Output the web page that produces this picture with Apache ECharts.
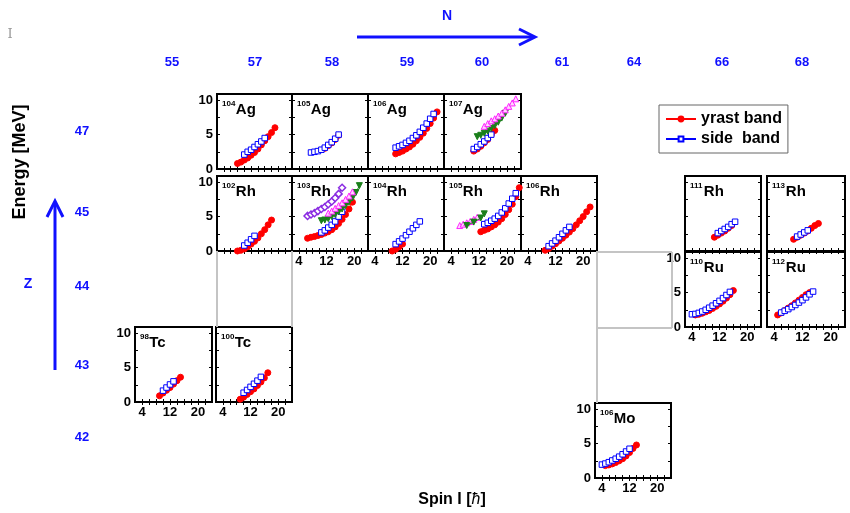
<!DOCTYPE html>
<html>
<head>
<meta charset="utf-8">
<script src="https://cdn.jsdelivr.net/npm/echarts@6/dist/echarts.min.js"></script>
<style>
html, body { margin: 0; padding: 0; background: #fff; }
#main { width: 850px; height: 513px; }
</style>
</head>
<body>
<div id="main"></div>
<script>
// axis labels
const nLabels = ['55', '57', '58', '59', '60', '61', '64', '66', '68'];
const zLabels = ['47', '45', '44', '43', '42'];
const xTickVals = [4, 6, 8, 10, 12, 14, 16, 18, 20, 22];
const xLabelVals = [4, 12, 20];
const yTickVals = [2.5, 5, 7.5, 10];
const yLabelVals = [0, 5, 10];

// [spin, energy] per band
const ag104Yrast = [[8,0.8],[9,1.0],[10,1.3],[11,1.6],[12,2.0],[13,2.4],[14,2.9],[15,3.5],[16,4.1],[17,4.7],[18,5.3],[19,6.0]];
const ag104Side = [[10,2.1],[11,2.5],[12,2.8],[13,3.2],[14,3.6],[15,4.0],[16,4.5]];
const ag105Yrast = [[11.5,3.0],[12.5,3.4],[13.5,3.8],[14.5,4.3],[15.5,4.9]];
const ag105Side = [[7.5,2.4],[8.5,2.5],[9.5,2.6],[10.5,2.8],[11.5,3.1],[12.5,3.5],[13.5,3.9],[14.5,4.4],[15.5,5.0]];
const ag106Yrast = [[10,2.2],[11,2.4],[12,2.6],[13,2.9],[14,3.2],[15,3.6],[16,4.1],[17,4.6],[18,5.2],[19,5.9],[20,6.6],[21,7.4],[22,8.3]];
const ag106Side = [[10,3.1],[11,3.3],[12,3.5],[13,3.8],[14,4.1],[15,4.5],[16,4.9],[17,5.4],[18,6.0],[19,6.6],[20,7.3],[21,8.0]];
const ag107Yrast = [[10.5,2.6],[11.5,2.9],[12.5,3.3],[13.5,3.8],[14.5,4.3],[15.5,5.0],[16.5,5.6]];
const ag107Side = [[10.5,2.9],[11.5,3.2],[12.5,3.6],[13.5,4.0],[14.5,4.5],[15.5,5.0]];
const ag107Green = [[11.5,4.7],[12.5,4.9],[13.5,5.2],[14.5,5.5],[15.5,5.9],[16.5,6.3],[17.5,6.8],[18.5,7.4],[19.5,8.1]];
const ag107Pink = [[13.5,6.2],[14.5,6.6],[15.5,7.0],[16.5,7.3],[17.5,7.7],[18.5,8.1],[19.5,8.6],[20.5,9.1],[21.5,9.6],[22.5,10.2]];

const rh102Yrast = [[8,0.0],[9,0.1],[10,0.3],[11,0.6],[12,1.0],[13,1.4],[14,1.9],[15,2.5],[16,3.1],[17,3.8],[18,4.5]];
const rh102Side = [[10,0.8],[11,1.2],[12,1.7],[13,2.2]];
const rh103Yrast = [[6.5,1.85],[7.5,2.0],[8.5,2.1],[9.5,2.25],[10.5,2.4],[11.5,2.6],[12.5,2.8],[13.5,3.1],[14.5,3.5],[15.5,4.0],[16.5,4.6],[17.5,5.3],[18.5,6.1],[19.5,7.1]];
const rh103Side = [[10.5,2.7],[11.5,3.0],[12.5,3.4],[13.5,3.8],[14.5,4.3],[15.5,5.0],[16.5,5.7]];
const rh103Purple = [[6.5,5.1],[7.5,5.3],[8.5,5.5],[9.5,5.8],[10.5,6.1],[11.5,6.4],[12.5,6.8],[13.5,7.2],[14.5,7.7],[15.5,8.3],[16.5,9.2]];
const rh103Green = [[10.5,4.4],[11.5,4.5],[12.5,4.7],[13.5,5.0],[14.5,5.3],[15.5,5.7],[16.5,6.1],[17.5,6.6],[18.5,7.1],[19.5,7.7],[20.5,8.5],[21.5,9.5]];
const rh103Pink = [[12.5,5.5],[13.5,5.8],[14.5,6.2],[15.5,6.6],[16.5,7.0],[17.5,7.5],[18.5,8.0],[19.5,8.6]];
const rh104Yrast = [[9,0.0],[10,0.25],[11,0.6],[12,1.0]];
const rh104Side = [[10,1.0],[11,1.4],[12,1.8],[13,2.3],[14,2.8],[15,3.3],[16,3.8],[17,4.3]];
const rh105Yrast = [[12.5,2.8],[13.5,3.0],[14.5,3.2],[15.5,3.5],[16.5,3.8],[17.5,4.2],[18.5,4.7],[19.5,5.3],[20.5,6.0],[21.5,6.8],[22.5,7.9],[23.5,9.2]];
const rh105Side = [[13.5,3.9],[14.5,4.1],[15.5,4.4],[16.5,4.7],[17.5,5.1],[18.5,5.6],[19.5,6.2],[20.5,6.9],[21.5,7.6],[22.5,8.4]];
const rh105Pink = [[6.5,3.7],[7.5,3.9],[8.5,4.1],[9.5,4.3],[10.5,4.6],[11.5,4.9]];
const rh105Green = [[8.5,3.7],[10.5,4.2],[12.5,4.8],[13.5,5.4]];
const rh106Yrast = [[9,0.1],[10,0.35],[11,0.7],[12,1.05],[13,1.45],[14,1.85],[15,2.3],[16,2.75],[17,3.25],[18,3.8],[19,4.4],[20,5.0],[21,5.7],[22,6.4]];
const rh106Side = [[10,0.7],[11,1.1],[12,1.5],[13,2.0],[14,2.5],[15,3.0],[16,3.5]];
const rh111Yrast = [[10.5,2.0],[11.5,2.3],[12.5,2.6],[13.5,2.9],[14.5,3.3],[15.5,3.7]];
const rh111Side = [[11.5,2.6],[12.5,2.9],[13.5,3.2],[14.5,3.5],[15.5,3.9],[16.5,4.25]];
const rh113Yrast = [[9.5,1.7],[10.5,2.0],[11.5,2.3],[12.5,2.6],[13.5,2.9],[14.5,3.3],[15.5,3.7],[16.5,4.0]];
const rh113Side = [[10.5,2.1],[11.5,2.4],[12.5,2.7],[13.5,3.0]];

const ru110Yrast = [[5,1.75],[6,1.85],[7,2.0],[8,2.2],[9,2.4],[10,2.7],[11,3.0],[12,3.35],[13,3.75],[14,4.2],[15,4.7],[16,5.3]];
const ru110Side = [[4,1.85],[5,1.9],[6,2.05],[7,2.25],[8,2.5],[9,2.8],[10,3.1],[11,3.45],[12,3.8],[13,4.2],[14,4.65],[15,5.1]];
const ru112Yrast = [[5,1.75],[6,2.05],[7,2.4],[8,2.75],[9,3.1],[10,3.5],[11,3.9],[12,4.3],[13,4.7],[14,5.0]];
const ru112Side = [[6,2.1],[7,2.35],[8,2.6],[9,2.9],[10,3.2],[11,3.55],[12,3.9],[13,4.3],[14,4.75],[15,5.15]];

const tc98Yrast = [[9,0.9],[10,1.3],[11,1.7],[12,2.1],[13,2.6],[14,3.1],[15,3.6]];
const tc98Side = [[10,1.65],[11,2.1],[12,2.55],[13,3.0]];
const tc100Yrast = [[9,0.4],[10,0.7],[11,1.1],[12,1.5],[13,1.9],[14,2.4],[15,2.9],[16,3.5],[17,4.25]];
const tc100Side = [[10,1.35],[11,1.75],[12,2.2],[13,2.65],[14,3.1],[15,3.65]];

const mo106Yrast = [[5,1.8],[6,1.9],[7,2.05],[8,2.25],[9,2.5],[10,2.8],[11,3.2],[12,3.7],[13,4.3],[14,4.8]];
const mo106Side = [[4,1.95],[5,2.1],[6,2.3],[7,2.55],[8,2.8],[9,3.1],[10,3.45],[11,3.85],[12,4.25]];

const F = '"Liberation Sans", Arial, sans-serif';
const FN = '"Liberation Sans Narrow", "Liberation Sans", Arial, sans-serif';

const bandStyle = {
  yrast: { name: 'yrast band', color: '#ff0000', symbol: 'circle', size: 6, fill: '#ff0000' },
  side: { name: 'side  band', color: '#0000ff', symbol: 'rect', size: 5.5, fill: '#ffffff' },
  green: { name: 'band3', color: '#1a7f1a', symbol: 'triangle', size: 6, fill: '#1a7f1a', rotate: 180 },
  pink: { name: 'band4', color: '#ff22ff', symbol: 'triangle', size: 6, fill: '#ffd6ff' },
  purple: { name: 'band5', color: '#8a2be2', symbol: 'diamond', size: 7, fill: '#ffffff', bw: 1.5 }
};

// panel boxes in pixels
const panels = [
  { a: '104', el: 'Ag', x: 217, y: 94, w: 75, h: 75, xl: false, yl: true, bands: [['yrast', ag104Yrast], ['side', ag104Side]] },
  { a: '105', el: 'Ag', x: 292, y: 94, w: 76, h: 75, xl: false, yl: false, bands: [['yrast', ag105Yrast], ['side', ag105Side]] },
  { a: '106', el: 'Ag', x: 368, y: 94, w: 76, h: 75, xl: false, yl: false, bands: [['yrast', ag106Yrast], ['side', ag106Side]] },
  { a: '107', el: 'Ag', x: 444, y: 94, w: 77, h: 75, xl: false, yl: false, bands: [['yrast', ag107Yrast], ['side', ag107Side], ['green', ag107Green], ['pink', ag107Pink]] },
  { a: '102', el: 'Rh', x: 217, y: 176, w: 75, h: 75, xl: false, yl: true, bands: [['yrast', rh102Yrast], ['side', rh102Side]] },
  { a: '103', el: 'Rh', x: 292, y: 176, w: 76, h: 75, xl: true, yl: false, bands: [['yrast', rh103Yrast], ['side', rh103Side], ['purple', rh103Purple], ['green', rh103Green], ['pink', rh103Pink]] },
  { a: '104', el: 'Rh', x: 368, y: 176, w: 76, h: 75, xl: true, yl: false, bands: [['yrast', rh104Yrast], ['side', rh104Side]] },
  { a: '105', el: 'Rh', x: 444, y: 176, w: 77, h: 75, xl: true, yl: false, bands: [['yrast', rh105Yrast], ['side', rh105Side], ['pink', rh105Pink], ['green', rh105Green]] },
  { a: '106', el: 'Rh', x: 521, y: 176, w: 76, h: 75, xl: true, yl: false, bands: [['yrast', rh106Yrast], ['side', rh106Side]] },
  { a: '111', el: 'Rh', x: 685, y: 176, w: 76, h: 75, xl: false, yl: false, bands: [['yrast', rh111Yrast], ['side', rh111Side]] },
  { a: '113', el: 'Rh', x: 767, y: 176, w: 78, h: 75, xl: false, yl: false, bands: [['yrast', rh113Yrast], ['side', rh113Side]] },
  { a: '110', el: 'Ru', x: 685, y: 252, w: 76, h: 75, xl: true, yl: true, bands: [['yrast', ru110Yrast], ['side', ru110Side]] },
  { a: '112', el: 'Ru', x: 767, y: 252, w: 78, h: 75, xl: true, yl: false, bands: [['yrast', ru112Yrast], ['side', ru112Side]] },
  { a: '98', el: 'Tc', x: 135, y: 327, w: 77, h: 75, xl: true, yl: true, bands: [['yrast', tc98Yrast], ['side', tc98Side]] },
  { a: '100', el: 'Tc', x: 216, y: 327, w: 76, h: 75, xl: true, yl: false, bands: [['yrast', tc100Yrast], ['side', tc100Side]] },
  { a: '106', el: 'Mo', x: 595, y: 403, w: 76, h: 75, xl: true, yl: true, bands: [['yrast', mo106Yrast], ['side', mo106Side]] }
];

const grid = [], xAxis = [], yAxis = [], series = [], graphic = [];

function tick(vals) {
  return { show: true, inside: true, length: 3, customValues: vals, lineStyle: { color: '#000', width: 1 } };
}
function lab(show, vals) {
  return { show: show, customValues: vals, color: '#000', fontSize: 13, fontWeight: 'bold', fontFamily: F, margin: 4 };
}

panels.forEach(function (p, i) {
  grid.push({ left: p.x, top: p.y, width: p.w, height: p.h, show: true, borderColor: '#000', borderWidth: 2, backgroundColor: 'transparent' });
  xAxis.push({ gridIndex: i, type: 'value', min: 2, max: 24, position: 'bottom', axisLine: { show: false }, splitLine: { show: false }, axisTick: tick(xTickVals), axisLabel: lab(p.xl, xLabelVals) });
  xAxis.push({ gridIndex: i, type: 'value', min: 2, max: 24, position: 'top', axisLine: { show: false }, splitLine: { show: false }, axisTick: tick(xTickVals), axisLabel: { show: false } });
  yAxis.push({ gridIndex: i, type: 'value', min: 0, max: 10.9, position: 'left', axisLine: { show: false }, splitLine: { show: false }, axisTick: tick(yTickVals), axisLabel: lab(p.yl, yLabelVals) });
  yAxis.push({ gridIndex: i, type: 'value', min: 0, max: 10.9, position: 'right', axisLine: { show: false }, splitLine: { show: false }, axisTick: tick(yTickVals), axisLabel: { show: false } });

  p.bands.forEach(function (b, k) {
    const s = bandStyle[b[0]];
    series.push({
      type: 'line', name: s.name, xAxisIndex: 2 * i, yAxisIndex: 2 * i,
      data: b[1], symbol: s.symbol, symbolSize: s.size, symbolRotate: s.rotate || 0,
      showAllSymbol: true, z: 2 + k,
      lineStyle: { color: s.color, width: 1 },
      itemStyle: { color: s.fill, borderColor: s.color, borderWidth: s.bw || 1 }
    });
  });

  // nucleus name, mass number as superscript
  const aw = p.a.length * 4.6;
  graphic.push({ type: 'text', x: p.x + 5, y: p.y + 6, style: { text: p.a, font: 'bold 8px ' + F, fill: '#000' }, z: 50 });
  graphic.push({ type: 'text', x: p.x + 5 + aw, y: p.y + 8, style: { text: p.el, font: 'bold 15px ' + F, fill: '#000' }, z: 50 });
});

// N and Z numbers
const nX = [172, 255, 332, 407, 482, 562, 634, 722, 802];
nLabels.forEach(function (t, i) {
  graphic.push({ type: 'text', x: nX[i], y: 62, style: { text: t, font: 'bold 13px ' + FN, fill: '#1010ff', textAlign: 'center', textVerticalAlign: 'middle' } });
});
const zY = [131, 212, 286, 365, 437];
zLabels.forEach(function (t, i) {
  graphic.push({ type: 'text', x: 82, y: zY[i], style: { text: t, font: 'bold 13px ' + FN, fill: '#1010ff', textAlign: 'center', textVerticalAlign: 'middle' } });
});

const gray = '#c4c4c4';
function gl(x1, y1, x2, y2, c, w) {
  return { type: 'line', shape: { x1: x1, y1: y1, x2: x2, y2: y2 }, style: { stroke: c, lineWidth: w }, z: 1 };
}
graphic.push(
  gl(217, 251, 217, 327, gray, 2),
  gl(292, 251, 292, 327, gray, 2),
  gl(597, 251, 597, 403, gray, 2),
  gl(597, 252, 672, 252, gray, 2),
  gl(672, 252, 672, 328, gray, 2),
  gl(597, 328, 672, 328, gray, 2),
  // N arrow
  gl(357, 37, 533, 37, '#1010ff', 3),
  { type: 'polyline', shape: { points: [[519, 29], [535, 37], [519, 45]] }, style: { stroke: '#1010ff', lineWidth: 3, fill: null } },
  // Z arrow
  gl(55, 370, 55, 203, '#1010ff', 3),
  { type: 'polyline', shape: { points: [[47, 217], [55, 201], [63, 217]] }, style: { stroke: '#1010ff', lineWidth: 3, fill: null } },
  { type: 'text', x: 447, y: 16, style: { text: 'N', font: 'bold 14px ' + F, fill: '#1010ff', textAlign: 'center', textVerticalAlign: 'middle' } },
  { type: 'text', x: 28, y: 284, style: { text: 'Z', font: 'bold 14px ' + F, fill: '#1010ff', textAlign: 'center', textVerticalAlign: 'middle' } },
  { type: 'text', x: 10, y: 35, style: { text: 'I', font: '13px "DejaVu Serif", serif', fill: '#999', textAlign: 'center', textVerticalAlign: 'middle' } },
  { type: 'text', x: 20, y: 162, rotation: Math.PI / 2, style: { text: 'Energy [MeV]', font: 'bold 18px ' + F, fill: '#000', textAlign: 'center', textVerticalAlign: 'middle' } },
  { type: 'text', x: 452, y: 500, style: { text: '{b|Spin I [}{i|ħ}{b|]}', rich: { b: { fontSize: 16, fontWeight: 'bold', fontFamily: F }, i: { fontSize: 16, fontStyle: 'italic', fontFamily: F } }, fill: '#000', textAlign: 'center', textVerticalAlign: 'middle' } }
);

const chart = echarts.init(document.getElementById('main'));
chart.setOption({
  animation: false,
  backgroundColor: '#fff',
  legend: {
    left: 659, top: 105, orient: 'vertical',
    padding: [6, 6, 6, 6], itemGap: 4, itemWidth: 30, itemHeight: 6,
    borderColor: '#666', borderWidth: 1,
    data: ['yrast band', 'side  band'],
    textStyle: { fontSize: 16, fontWeight: 'bold', color: '#000', fontFamily: F }
  },
  grid: grid,
  xAxis: xAxis,
  yAxis: yAxis,
  series: series,
  graphic: graphic
});
</script>
</body>
</html>
